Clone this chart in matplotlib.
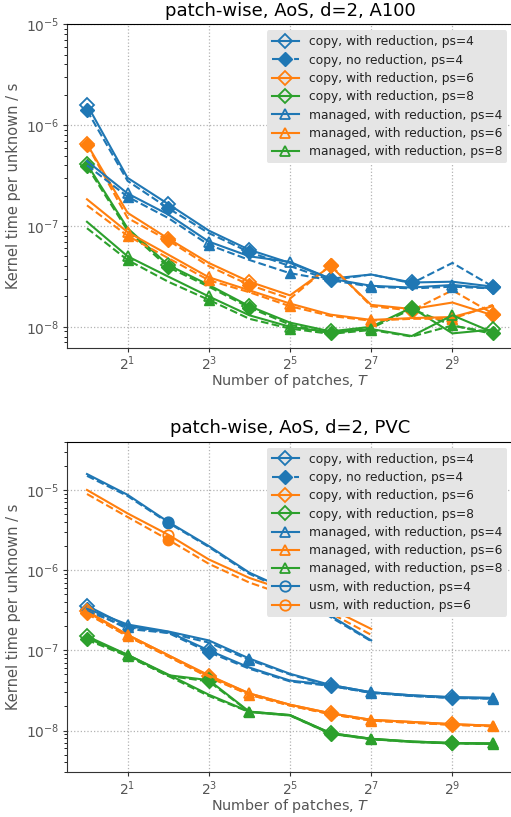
import matplotlib
matplotlib.use("Agg")
import matplotlib.pyplot as plt
import matplotlib.ticker as mticker

# number of patches T = 2^0 ... 2^10
patches = [2 ** k for k in range(11)]
patches_usm = [2 ** k for k in range(8)]

# ---- A100 kernel times per unknown [s] ----
a100_copy_red_ps4 = [1.6e-6, 3.0e-7, 1.65e-7, 9.0e-8, 5.8e-8, 4.3e-8, 3.0e-8, 3.3e-8, 2.75e-8, 2.8e-8, 2.5e-8]
a100_copy_nored_ps4 = [1.4e-6, 2.8e-7, 1.5e-7, 8.5e-8, 5.5e-8, 4.0e-8, 2.9e-8, 3.3e-8, 2.7e-8, 4.3e-8, 2.5e-8]
a100_copy_red_ps6 = [6.5e-7, 1.35e-7, 7.5e-8, 4.3e-8, 2.8e-8, 2.05e-8, 4.0e-8, 1.65e-8, 1.5e-8, 1.74e-8, 1.3e-8]
a100_copy_nored_ps6 = [6.4e-7, 1.2e-7, 7.2e-8, 4.0e-8, 2.6e-8, 1.9e-8, 4.1e-8, 1.6e-8, 1.45e-8, 2.3e-8, 1.35e-8]
a100_copy_red_ps8 = [4.1e-7, 9.5e-8, 4.1e-8, 2.6e-8, 1.6e-8, 1.1e-8, 9.0e-9, 1.0e-8, 1.55e-8, 8.6e-9, 9.4e-9]
a100_copy_nored_ps8 = [3.9e-7, 9.0e-8, 3.9e-8, 2.5e-8, 1.55e-8, 1.05e-8, 8.6e-9, 9.7e-9, 1.5e-8, 1.03e-8, 8.7e-9]
a100_man_red_ps4 = [4.4e-7, 2.1e-7, 1.3e-7, 7.0e-8, 5.0e-8, 4.4e-8, 3.0e-8, 2.55e-8, 2.45e-8, 2.6e-8, 2.4e-8]
a100_man_nored_ps4 = [4.0e-7, 1.95e-7, 1.2e-7, 6.5e-8, 4.6e-8, 3.4e-8, 2.9e-8, 2.5e-8, 2.4e-8, 2.5e-8, 2.4e-8]
a100_man_red_ps6 = [1.84e-7, 8.7e-8, 5.2e-8, 3.1e-8, 2.3e-8, 1.7e-8, 1.32e-8, 1.17e-8, 1.22e-8, 1.25e-8, 1.6e-8]
a100_man_nored_ps6 = [1.6e-7, 8.0e-8, 4.8e-8, 2.9e-8, 2.2e-8, 1.6e-8, 1.28e-8, 1.15e-8, 1.2e-8, 1.2e-8, 1.65e-8]
a100_man_red_ps8 = [1.1e-7, 5.0e-8, 3.15e-8, 2.0e-8, 1.3e-8, 1.0e-8, 8.8e-9, 9.5e-9, 8.1e-9, 1.3e-8, 8.8e-9]
a100_man_nored_ps8 = [9.5e-8, 4.6e-8, 2.8e-8, 1.85e-8, 1.2e-8, 9.6e-9, 8.5e-9, 9.3e-9, 8.0e-9, 1.03e-8, 8.5e-9]

# ---- PVC kernel times per unknown [s] ----
pvc_copy_red_ps4 = [3.6e-7, 2.0e-7, 1.7e-7, 1.0e-7, 6.1e-8, 4.2e-8, 3.7e-8, 3.0e-8, 2.75e-8, 2.6e-8, 2.55e-8]
pvc_copy_nored_ps4 = [3.3e-7, 1.85e-7, 1.65e-7, 9.5e-8, 5.9e-8, 4.1e-8, 3.6e-8, 2.95e-8, 2.7e-8, 2.55e-8, 2.5e-8]
pvc_copy_red_ps6 = [3.1e-7, 1.56e-7, 8.7e-8, 4.8e-8, 2.9e-8, 2.1e-8, 1.64e-8, 1.36e-8, 1.28e-8, 1.2e-8, 1.15e-8]
pvc_copy_nored_ps6 = [2.9e-7, 1.5e-7, 8.4e-8, 4.6e-8, 2.8e-8, 2.05e-8, 1.6e-8, 1.33e-8, 1.25e-8, 1.18e-8, 1.13e-8]
pvc_copy_red_ps8 = [1.5e-7, 8.8e-8, 4.9e-8, 4.25e-8, 1.72e-8, 1.56e-8, 9.3e-9, 7.9e-9, 7.3e-9, 7.0e-9, 6.9e-9]
pvc_copy_nored_ps8 = [1.4e-7, 8.5e-8, 4.8e-8, 4.1e-8, 1.7e-8, 1.54e-8, 9.1e-9, 7.8e-9, 7.2e-9, 6.9e-9, 6.8e-9]
pvc_man_red_ps4 = [3.3e-7, 2.1e-7, 1.72e-7, 1.33e-7, 7.9e-8, 5.1e-8, 3.7e-8, 3.0e-8, 2.75e-8, 2.6e-8, 2.55e-8]
pvc_man_nored_ps4 = [3.1e-7, 1.95e-7, 1.65e-7, 1.25e-7, 7.6e-8, 5.0e-8, 3.6e-8, 2.95e-8, 2.7e-8, 2.55e-8, 2.5e-8]
pvc_man_red_ps6 = [3.0e-7, 1.56e-7, 8.7e-8, 4.9e-8, 2.9e-8, 2.1e-8, 1.64e-8, 1.36e-8, 1.28e-8, 1.2e-8, 1.15e-8]
pvc_man_nored_ps6 = [2.85e-7, 1.5e-7, 8.4e-8, 4.7e-8, 2.8e-8, 2.05e-8, 1.6e-8, 1.33e-8, 1.25e-8, 1.18e-8, 1.13e-8]
pvc_man_red_ps8 = [1.42e-7, 8.8e-8, 5.0e-8, 2.8e-8, 1.72e-8, 1.56e-8, 9.3e-9, 7.9e-9, 7.3e-9, 7.0e-9, 6.9e-9]
pvc_man_nored_ps8 = [1.35e-7, 8.5e-8, 4.8e-8, 2.7e-8, 1.7e-8, 1.54e-8, 9.1e-9, 7.8e-9, 7.2e-9, 6.9e-9, 6.8e-9]
pvc_usm_red_ps4 = [1.58e-5, 8.7e-6, 4.0e-6, 2.0e-6, 9.3e-7, 5.5e-7, 2.7e-7, 1.33e-7]
pvc_usm_nored_ps4 = [1.5e-5, 8.4e-6, 3.9e-6, 1.95e-6, 9.0e-7, 5.3e-7, 2.6e-7, 1.3e-7]
pvc_usm_red_ps6 = [1.0e-5, 5.1e-6, 2.77e-6, 1.36e-6, 8.0e-7, 5.4e-7, 3.3e-7, 1.85e-7]
pvc_usm_nored_ps6 = [8.9e-6, 4.6e-6, 2.4e-6, 1.2e-6, 7.0e-7, 4.7e-7, 2.9e-7, 1.56e-7]

colors = {4: "#1f77b4", 6: "#ff7f0e", 8: "#2ca02c"}
markers = {"copy": "D", "managed": "^", "usm": "o"}
GRAY = "#555555"


def draw(ax, x, y_red, y_nored, method, ps, nmeth, label_nored=False):
    idx = list(markers).index(method)
    c = colors[ps]
    ax.plot(x, y_red, "-", color=c, marker=markers[method], mfc="none", ms=7.5,
            mew=1.3, lw=1.5, markevery=(idx, nmeth),
            label=f"{method}, with reduction, ps={ps}")
    ax.plot(x, y_nored, "--", color=c, marker=markers[method], ms=7.5, lw=1.5,
            markevery=(idx, nmeth),
            label=f"{method}, no reduction, ps={ps}" if label_nored else "_nolegend_")


def style(ax, title, ylim):
    ax.set_xscale("log", base=2)
    ax.set_yscale("log")
    ax.set_xlim(2 ** -0.5, 2 ** 10.5)
    ax.set_ylim(*ylim)
    ax.set_xticks([2, 8, 32, 128, 512])
    ax.xaxis.set_major_formatter(mticker.LogFormatterSciNotation(base=2))
    ax.xaxis.set_minor_locator(mticker.NullLocator())
    ax.grid(True, which="major", ls=":", color="0.7", lw=0.9)
    ax.set_axisbelow(True)
    for s in ("left", "bottom"):
        ax.spines[s].set_color("#333333")
    ax.spines["top"].set_color("black")
    ax.spines["right"].set_visible(False)
    ax.tick_params(colors="#333333", labelcolor=GRAY, labelsize=10, pad=2)
    ax.tick_params(which="major", length=3)
    ax.tick_params(which="minor", length=2)
    ax.set_title(title, fontsize=13)
    ax.set_xlabel("Number of patches, $T$", color=GRAY, fontsize=10.4, labelpad=-1)
    ax.set_ylabel("Kernel time per unknown / s", color=GRAY, fontsize=10.5, labelpad=4)
    leg = ax.legend(loc="upper right", fontsize=8.85, facecolor="#e5e5e5",
                    edgecolor="none", framealpha=1.0, handlelength=2.2,
                    labelspacing=0.43, borderpad=0.4)
    for t in leg.get_texts():
        t.set_color("#222222")


fig = plt.figure(figsize=(5.11, 8.17), dpi=100)
ax1 = fig.add_axes([0.1305, 0.5744, 0.874, 0.3958])
ax2 = fig.add_axes([0.1305, 0.0545, 0.874, 0.4049])

# A100: copy and managed memory
draw(ax1, patches, a100_copy_red_ps4, a100_copy_nored_ps4, "copy", 4, 2, label_nored=True)
draw(ax1, patches, a100_copy_red_ps6, a100_copy_nored_ps6, "copy", 6, 2)
draw(ax1, patches, a100_copy_red_ps8, a100_copy_nored_ps8, "copy", 8, 2)
draw(ax1, patches, a100_man_red_ps4, a100_man_nored_ps4, "managed", 4, 2)
draw(ax1, patches, a100_man_red_ps6, a100_man_nored_ps6, "managed", 6, 2)
draw(ax1, patches, a100_man_red_ps8, a100_man_nored_ps8, "managed", 8, 2)
style(ax1, "patch-wise, AoS, d=2, A100", (6.2e-9, 1e-5))

# PVC: copy, managed and USM
draw(ax2, patches, pvc_copy_red_ps4, pvc_copy_nored_ps4, "copy", 4, 3, label_nored=True)
draw(ax2, patches, pvc_copy_red_ps6, pvc_copy_nored_ps6, "copy", 6, 3)
draw(ax2, patches, pvc_copy_red_ps8, pvc_copy_nored_ps8, "copy", 8, 3)
draw(ax2, patches, pvc_man_red_ps4, pvc_man_nored_ps4, "managed", 4, 3)
draw(ax2, patches, pvc_man_red_ps6, pvc_man_nored_ps6, "managed", 6, 3)
draw(ax2, patches, pvc_man_red_ps8, pvc_man_nored_ps8, "managed", 8, 3)
draw(ax2, patches_usm, pvc_usm_red_ps4, pvc_usm_nored_ps4, "usm", 4, 3)
draw(ax2, patches_usm, pvc_usm_red_ps6, pvc_usm_nored_ps6, "usm", 6, 3)
style(ax2, "patch-wise, AoS, d=2, PVC", (3.0e-9, 4e-5))

fig.savefig("out.png", dpi=100)
